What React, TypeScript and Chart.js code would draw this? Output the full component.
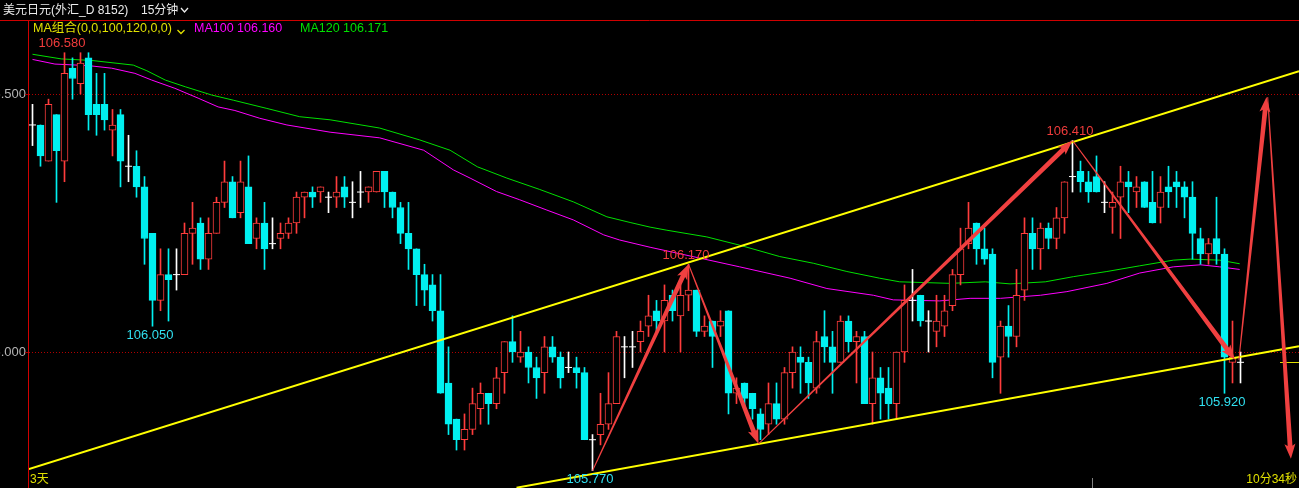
import React, { useEffect, useRef } from 'react';
import { Chart, registerables } from 'chart.js';

Chart.register(...registerables);

// ---------- data (15-minute USD/JPY candles, left to right) ----------
const opens = [
  106.44, 106.44, 106.37, 106.46, 106.37, 106.55, 106.52, 106.57, 106.48, 106.48,
  106.43, 106.46, 106.36, 106.36, 106.32, 106.23, 106.10, 106.15, 106.15, 106.15,
  106.23, 106.25, 106.18, 106.23, 106.29, 106.33, 106.27, 106.32, 106.22, 106.25,
  106.21, 106.22, 106.23, 106.25, 106.30, 106.31, 106.31, 106.30, 106.30, 106.32,
  106.29, 106.31, 106.31, 106.31, 106.35, 106.31, 106.28, 106.23, 106.20, 106.15,
  106.13, 106.08, 105.94, 105.87, 105.83, 105.85, 105.89, 105.92, 105.90, 105.96,
  106.02, 105.99, 106.00, 105.97, 105.96, 106.01, 105.99, 105.97, 105.97, 105.96,
  105.83, 105.84, 105.86, 105.90, 106.01, 106.01, 106.02, 106.05, 106.08, 106.06,
  106.11, 106.07, 106.11, 106.12, 106.04, 106.06, 106.05, 106.08, 105.92, 105.94,
  105.92, 105.88, 105.86, 105.90, 105.87, 105.96, 105.99, 105.98, 105.93, 106.03,
  106.01, 105.98, 106.06, 106.02, 106.03, 105.90, 105.95, 105.93, 105.90, 106.00,
  106.10, 106.11, 106.06, 106.04, 106.05, 106.09, 106.15, 106.21, 106.25, 106.20,
  106.19, 105.99, 106.05, 106.03, 106.12, 106.23, 106.20, 106.24, 106.22, 106.26,
  106.34, 106.35, 106.33, 106.34, 106.29, 106.28, 106.30, 106.33, 106.31, 106.33,
  106.29, 106.28, 106.32, 106.33, 106.32, 106.30, 106.22, 106.19, 106.22, 106.19,
  105.98, 105.98,
];
const highs = [
  106.48, 106.44, 106.49, 106.46, 106.58, 106.57, 106.58, 106.58, 106.54, 106.54,
  106.47, 106.47, 106.42, 106.39, 106.34, 106.23, 106.20, 106.20, 106.20, 106.25,
  106.29, 106.26, 106.26, 106.30, 106.37, 106.34, 106.37, 106.38, 106.26, 106.29,
  106.26, 106.25, 106.26, 106.31, 106.31, 106.32, 106.32, 106.31, 106.34, 106.34,
  106.33, 106.35, 106.32, 106.35, 106.35, 106.31, 106.29, 106.29, 106.20, 106.17,
  106.15, 106.15, 106.01, 105.87, 105.88, 105.93, 105.94, 105.92, 105.97, 106.02,
  106.07, 106.04, 106.01, 105.99, 106.03, 106.03, 106.00, 106.00, 105.99, 105.97,
  105.84, 105.92, 105.96, 106.04, 106.03, 106.04, 106.06, 106.11, 106.10, 106.13,
  106.12, 106.13, 106.17, 106.12, 106.07, 106.06, 106.08, 106.08, 105.95, 105.94,
  105.92, 105.89, 105.94, 105.94, 105.97, 106.01, 106.01, 105.99, 106.04, 106.08,
  106.04, 106.07, 106.07, 106.04, 106.04, 106.00, 105.97, 105.97, 106.00, 106.13,
  106.16, 106.11, 106.08, 106.11, 106.11, 106.16, 106.24, 106.29, 106.25, 106.24,
  106.20, 106.06, 106.09, 106.16, 106.26, 106.26, 106.25, 106.25, 106.28, 106.33,
  106.41, 106.37, 106.35, 106.38, 106.33, 106.31, 106.36, 106.35, 106.34, 106.33,
  106.35, 106.34, 106.36, 106.35, 106.33, 106.33, 106.24, 106.22, 106.30, 106.20,
  106.06, 106.00,
];
const lows = [
  106.40, 106.36, 106.37, 106.29, 106.33, 106.49, 106.50, 106.43, 106.42, 106.43,
  106.38, 106.32, 106.33, 106.30, 106.17, 106.05, 106.08, 106.06, 106.12, 106.15,
  106.17, 106.16, 106.16, 106.23, 106.28, 106.26, 106.26, 106.21, 106.20, 106.16,
  106.20, 106.20, 106.22, 106.23, 106.26, 106.28, 106.29, 106.27, 106.28, 106.28,
  106.26, 106.28, 106.29, 106.31, 106.28, 106.26, 106.21, 106.16, 106.09, 106.09,
  106.06, 105.92, 105.84, 105.81, 105.81, 105.84, 105.86, 105.86, 105.89, 105.92,
  105.98, 105.98, 105.94, 105.91, 105.92, 105.98, 105.93, 105.96, 105.93, 105.83,
  105.77, 105.82, 105.85, 105.90, 105.95, 105.97, 106.00, 106.03, 106.04, 106.00,
  106.06, 106.00, 106.08, 106.03, 106.03, 105.97, 106.03, 105.88, 105.90, 105.89,
  105.87, 105.83, 105.84, 105.86, 105.86, 105.93, 105.92, 105.91, 105.92, 105.98,
  105.92, 105.98, 106.00, 105.94, 105.90, 105.86, 105.87, 105.87, 105.87, 105.98,
  106.06, 106.05, 106.00, 106.01, 106.03, 106.08, 106.13, 106.20, 106.17, 106.17,
  105.95, 105.92, 105.99, 106.01, 106.10, 106.16, 106.16, 106.20, 106.20, 106.23,
  106.31, 106.31, 106.29, 106.31, 106.27, 106.23, 106.22, 106.27, 106.28, 106.28,
  106.25, 106.25, 106.28, 106.28, 106.26, 106.18, 106.17, 106.17, 106.17, 105.92,
  105.94, 105.94,
];
const closes = [
  106.44, 106.38, 106.48, 106.39, 106.54, 106.53, 106.56, 106.46, 106.46, 106.45,
  106.44, 106.37, 106.36, 106.32, 106.22, 106.10, 106.15, 106.14, 106.15, 106.23,
  106.24, 106.18, 106.23, 106.29, 106.33, 106.26, 106.33, 106.21, 106.25, 106.20,
  106.21, 106.23, 106.25, 106.30, 106.31, 106.30, 106.32, 106.30, 106.31, 106.30,
  106.29, 106.31, 106.32, 106.35, 106.31, 106.28, 106.23, 106.20, 106.15, 106.12,
  106.08, 105.92, 105.86, 105.83, 105.85, 105.90, 105.92, 105.90, 105.95, 106.02,
  106.00, 106.00, 105.97, 105.95, 106.01, 105.99, 105.95, 105.97, 105.96, 105.83,
  105.83, 105.86, 105.90, 106.03, 106.01, 106.01, 106.04, 106.07, 106.06, 106.10,
  106.08, 106.11, 106.12, 106.04, 106.05, 106.03, 106.06, 105.92, 105.93, 105.91,
  105.89, 105.85, 105.90, 105.87, 105.96, 106.00, 105.98, 105.94, 106.02, 106.01,
  105.98, 106.06, 106.02, 106.03, 105.90, 105.95, 105.92, 105.90, 106.00, 106.10,
  106.10, 106.06, 106.06, 106.06, 106.08, 106.15, 106.20, 106.24, 106.20, 106.18,
  105.98, 106.05, 106.03, 106.11, 106.23, 106.20, 106.24, 106.22, 106.26, 106.33,
  106.34, 106.33, 106.31, 106.31, 106.29, 106.29, 106.33, 106.32, 106.32, 106.28,
  106.25, 106.31, 106.31, 106.32, 106.30, 106.23, 106.19, 106.21, 106.19, 105.99,
  105.99, 105.98,
];

// moving averages (candle index, value)
const ma100Index = [0, 2.8, 7, 9.9, 12.8, 14.9, 17.8, 20.7, 23.2, 25.3, 28.4, 31.8, 37.2, 43.4, 48.9, 52.6, 54.7, 58, 60.9, 64.3, 67.6, 71.4, 73.4, 77.2, 83.4, 88.4, 94.7, 99.3, 105.1, 107.6, 113.4, 117.2, 121, 126, 129.3, 134.3, 138.4, 142.6, 146, 148.4, 150.9];
const ma100Value = [106.567, 106.558, 106.555, 106.55, 106.54, 106.527, 106.511, 106.492, 106.475, 106.468, 106.453, 106.44, 106.426, 106.415, 106.391, 106.353, 106.337, 106.311, 106.295, 106.275, 106.256, 106.227, 106.217, 106.203, 106.182, 106.165, 106.143, 106.123, 106.11, 106.101, 106.099, 106.104, 106.104, 106.11, 106.117, 106.133, 106.153, 106.165, 106.169, 106.165, 106.16];
const ma120Index = [0, 3.6, 7.4, 12.6, 14.3, 16.6, 19.1, 22.4, 25.1, 29.3, 33.4, 37.2, 43.4, 48.4, 52.2, 55.6, 59.3, 63.4, 67.6, 71.8, 74.7, 77.2, 79.3, 84.3, 88.4, 93.4, 97.6, 101.8, 105.9, 108.4, 114.7, 119.1, 122.2, 126.6, 130.1, 134.3, 138.4, 142.6, 144.7, 148.4, 150.9];
const ma120Value = [106.577, 106.568, 106.565, 106.556, 106.545, 106.527, 106.514, 106.498, 106.488, 106.472, 106.456, 106.45, 106.434, 106.411, 106.391, 106.359, 106.337, 106.315, 106.291, 106.262, 106.251, 106.242, 106.236, 106.223, 106.207, 106.185, 106.172, 106.156, 106.143, 106.136, 106.133, 106.136, 106.132, 106.136, 106.146, 106.156, 106.167, 106.178, 106.18, 106.178, 106.171];

// yellow channel lines: [index, price] endpoints
const upperChannel = [[-0.4375, 105.773], [158.3125, 106.544]];
const lowerChannel = [[60.5, 105.737], [158.3125, 106.011]];

// red zig-zag arrows: [fromIndex, fromPrice, toIndex, toPrice]
const arrowSegments = [
  [70, 105.77, 82, 106.17],
  [82, 106.17, 90.75, 105.822],
  [90.75, 105.822, 130, 106.41],
  [130, 106.41, 150.3, 105.985],
  [150.8, 105.985, 154.25, 106.494],
  [154.4, 106.494, 157.3, 105.793],
];

// annotated extreme prices: [candle index, price, text, above(1)/below(0)]
const extremeLabels: [number, number, string, number][] = [
  [4, 106.58, '106.580', 1],
  [15, 106.05, '106.050', 0],
  [82, 106.17, '106.170', 1],
  [130, 106.41, '106.410', 1],
  [149, 105.92, '105.920', 0],
  [70, 105.77, '105.770', 0],
];

const yTickValues = [106.0, 106.5];
const yTickLabels = ['106.000', '106.500'];
const lastPrice = 105.98;

const UP = '#ff3c3c';
const DOWN = '#00f0f0';
const FLAT = '#ffffff';

const candleColor = (i: number) => (closes[i] > opens[i] ? UP : closes[i] < opens[i] ? DOWN : FLAT);

function drawArrow(ctx: CanvasRenderingContext2D, x1: number, y1: number, x2: number, y2: number) {
  const dx = x2 - x1;
  const dy = y2 - y1;
  const len = Math.hypot(dx, dy);
  const ux = dx / len;
  const uy = dy / len;
  const nx = -uy;
  const ny = ux;
  const headLen = 13;
  const headW = 5.5;
  const w0 = 0.5;
  const w1 = 2.4;
  const bx = x2 - ux * headLen;
  const by = y2 - uy * headLen;
  ctx.beginPath();
  ctx.moveTo(x1 + nx * w0, y1 + ny * w0);
  ctx.lineTo(bx + nx * w1, by + ny * w1);
  ctx.lineTo(bx + nx * headW - ux * 2, by + ny * headW - uy * 2);
  ctx.lineTo(x2, y2);
  ctx.lineTo(bx - nx * headW - ux * 2, by - ny * headW - uy * 2);
  ctx.lineTo(bx - nx * w1, by - ny * w1);
  ctx.lineTo(x1 - nx * w0, y1 - ny * w0);
  ctx.closePath();
  ctx.fill();
}

const decorPlugin = {
  id: 'decor',
  beforeDraw(chart: any) {
    const { ctx, width, height } = chart;
    ctx.save();
    ctx.fillStyle = '#000';
    ctx.fillRect(0, 0, width, height);
    ctx.restore();
  },
  beforeDatasetsDraw(chart: any) {
    const { ctx, chartArea } = chart;
    const y = chart.scales.y;
    ctx.save();
    ctx.strokeStyle = '#b00000';
    ctx.lineWidth = 1;
    ctx.setLineDash([1, 2]);
    yTickValues.forEach((v) => {
      const py = Math.round(y.getPixelForValue(v)) + 0.5;
      ctx.beginPath();
      ctx.moveTo(chartArea.left, py);
      ctx.lineTo(chartArea.right, py);
      ctx.stroke();
    });
    ctx.restore();
  },
  afterDatasetsDraw(chart: any) {
    const { ctx, chartArea } = chart;
    const x = chart.scales.x;
    const y = chart.scales.y;
    ctx.save();
    ctx.beginPath();
    ctx.rect(chartArea.left, chartArea.top, chartArea.right - chartArea.left, chartArea.bottom - chartArea.top);
    ctx.clip();

    // last price marker
    const lp = Math.round(y.getPixelForValue(lastPrice)) + 0.5;
    ctx.strokeStyle = '#e0e000';
    ctx.lineWidth = 1;
    ctx.beginPath();
    ctx.moveTo(1280, lp);
    ctx.lineTo(chartArea.right, lp);
    ctx.stroke();

    // arrows
    ctx.fillStyle = '#f04040';
    arrowSegments.forEach(([i1, p1, i2, p2]) => {
      drawArrow(ctx, x.getPixelForValue(i1), y.getPixelForValue(p1), x.getPixelForValue(i2), y.getPixelForValue(p2));
    });

    // extreme labels
    ctx.font = '13px "Liberation Sans", Arial, sans-serif';
    ctx.textAlign = 'center';
    ctx.textBaseline = 'middle';
    extremeLabels.forEach(([i, p, t, above]) => {
      const px = x.getPixelForValue(i) - 2.5;
      const py = y.getPixelForValue(p) + (above ? -9 : 9);
      ctx.fillStyle = above ? '#f03c3c' : '#30e0f0';
      ctx.fillText(t, px, py);
    });
    ctx.restore();
  },
  afterDraw(chart: any) {
    const { ctx, chartArea, width } = chart;
    const y = chart.scales.y;
    ctx.save();
    // frame
    ctx.strokeStyle = '#d00000';
    ctx.lineWidth = 1;
    ctx.beginPath();
    ctx.moveTo(0, chartArea.top + 0.5);
    ctx.lineTo(width, chartArea.top + 0.5);
    ctx.moveTo(chartArea.left - 0.5, chartArea.top);
    ctx.lineTo(chartArea.left - 0.5, chartArea.bottom);
    ctx.stroke();

    // y labels
    ctx.font = '13px "Liberation Sans", Arial, sans-serif';
    ctx.textAlign = 'right';
    ctx.textBaseline = 'middle';
    yTickValues.forEach((v, k) => {
      const py = Math.round(y.getPixelForValue(v));
      ctx.fillStyle = '#b4b4b4';
      ctx.fillText(yTickLabels[k], 26, py + 0.5);
      ctx.fillStyle = '#a00000';
      ctx.fillRect(25, py, 3, 1);
    });

    // header
    ctx.textAlign = 'left';
    ctx.font = '12px "Liberation Sans", "Noto Sans CJK SC", sans-serif';
    ctx.fillStyle = '#ececec';
    ctx.fillText('美元日元(外汇_D 8152)', 3, 11);
    ctx.fillText('15分钟', 141, 11);
    ctx.strokeStyle = '#ececec';
    ctx.lineWidth = 1.3;
    ctx.beginPath();
    ctx.moveTo(181, 8);
    ctx.lineTo(184.5, 12);
    ctx.lineTo(188, 8);
    ctx.stroke();

    // MA legend row
    ctx.font = '12.5px "Liberation Sans", "Noto Sans CJK SC", sans-serif';
    ctx.fillStyle = '#e0e000';
    ctx.fillText('MA组合(0,0,100,120,0,0)', 33, 29);
    ctx.strokeStyle = '#e0e000';
    ctx.beginPath();
    ctx.moveTo(177.5, 30);
    ctx.lineTo(181, 33.5);
    ctx.lineTo(184.5, 30);
    ctx.stroke();
    ctx.fillStyle = '#ff00ff';
    ctx.fillText('MA100 106.160', 194, 29);
    ctx.fillStyle = '#00e000';
    ctx.fillText('MA120 106.171', 300, 29);

    // bottom
    ctx.font = '12px "Liberation Sans", "Noto Sans CJK SC", sans-serif';
    ctx.fillStyle = '#e0e000';
    ctx.fillText('3天', 30, 480);
    ctx.textAlign = 'right';
    ctx.fillText('10分34秒', 1297, 480);
    ctx.fillStyle = '#808080';
    ctx.fillRect(1092, 478, 1, 10);
    ctx.restore();
  },
};

export default function App() {
  const canvasRef = useRef<HTMLCanvasElement | null>(null);

  useEffect(() => {
    document.body.style.margin = '0';
    document.body.style.background = '#000';
    const idx = opens.map((_, i) => i);
    const bodyIdx = idx.filter((i) => opens[i] !== closes[i]);
    const dojiIdx = idx.filter((i) => opens[i] === closes[i]);

    const chart = new Chart(canvasRef.current as HTMLCanvasElement, {
      type: 'bar',
      data: {
        datasets: [
          {
            type: 'line',
            label: 'MA120',
            data: ma120Index.map((v, k) => ({ x: v, y: ma120Value[k] })),
            borderColor: '#00e000',
            borderWidth: 1,
            pointRadius: 0,
            tension: 0,
            order: 10,
          } as any,
          {
            type: 'line',
            label: 'MA100',
            data: ma100Index.map((v, k) => ({ x: v, y: ma100Value[k] })),
            borderColor: '#ff00ff',
            borderWidth: 1,
            pointRadius: 0,
            tension: 0,
            order: 9,
          } as any,
          {
            type: 'bar',
            label: 'wick',
            data: idx.map((i) => ({ x: i, y: [lows[i], highs[i]] })),
            backgroundColor: idx.map(candleColor),
            borderWidth: 0,
            barThickness: 1,
            grouped: false,
            order: 8,
          } as any,
          {
            type: 'bar',
            label: 'body',
            data: bodyIdx.map((i) => ({ x: i, y: [opens[i], closes[i]] })),
            backgroundColor: bodyIdx.map((i) => (closes[i] > opens[i] ? '#000000' : DOWN)),
            borderColor: bodyIdx.map(candleColor),
            borderWidth: 1,
            borderSkipped: false,
            barThickness: 7,
            grouped: false,
            order: 7,
          } as any,
          {
            type: 'line',
            label: 'doji',
            data: dojiIdx.map((i) => ({ x: i, y: opens[i] })),
            showLine: false,
            pointStyle: 'line',
            pointRadius: 3.5,
            borderColor: FLAT,
            borderWidth: 1,
            order: 6,
          } as any,
          {
            type: 'line',
            label: 'upper',
            data: upperChannel.map(([a, b]) => ({ x: a, y: b })),
            borderColor: '#ffff00',
            borderWidth: 2,
            pointRadius: 0,
            order: 5,
          } as any,
          {
            type: 'line',
            label: 'lower',
            data: lowerChannel.map(([a, b]) => ({ x: a, y: b })),
            borderColor: '#ffff00',
            borderWidth: 2,
            pointRadius: 0,
            order: 5,
          } as any,
        ],
      },
      options: {
        animation: false,
        responsive: true,
        maintainAspectRatio: false,
        events: [],
        layout: { autoPadding: false, padding: { left: 29, top: 20, right: 0, bottom: 0 } },
        plugins: { legend: { display: false }, tooltip: { enabled: false } },
        scales: {
          x: { type: 'linear', min: -0.4375, max: 158.3125, offset: false, display: false, grid: { display: false } },
          y: { type: 'linear', min: 105.73643, max: 106.64341, beginAtZero: false, display: false, grid: { display: false } },
        },
      } as any,
      plugins: [decorPlugin],
    });
    return () => chart.destroy();
  }, []);

  return (
    <div style={{ position: 'fixed', left: 0, top: 0, width: 1299, height: 488, background: '#000' }}>
      <canvas ref={canvasRef} />
    </div>
  );
}
